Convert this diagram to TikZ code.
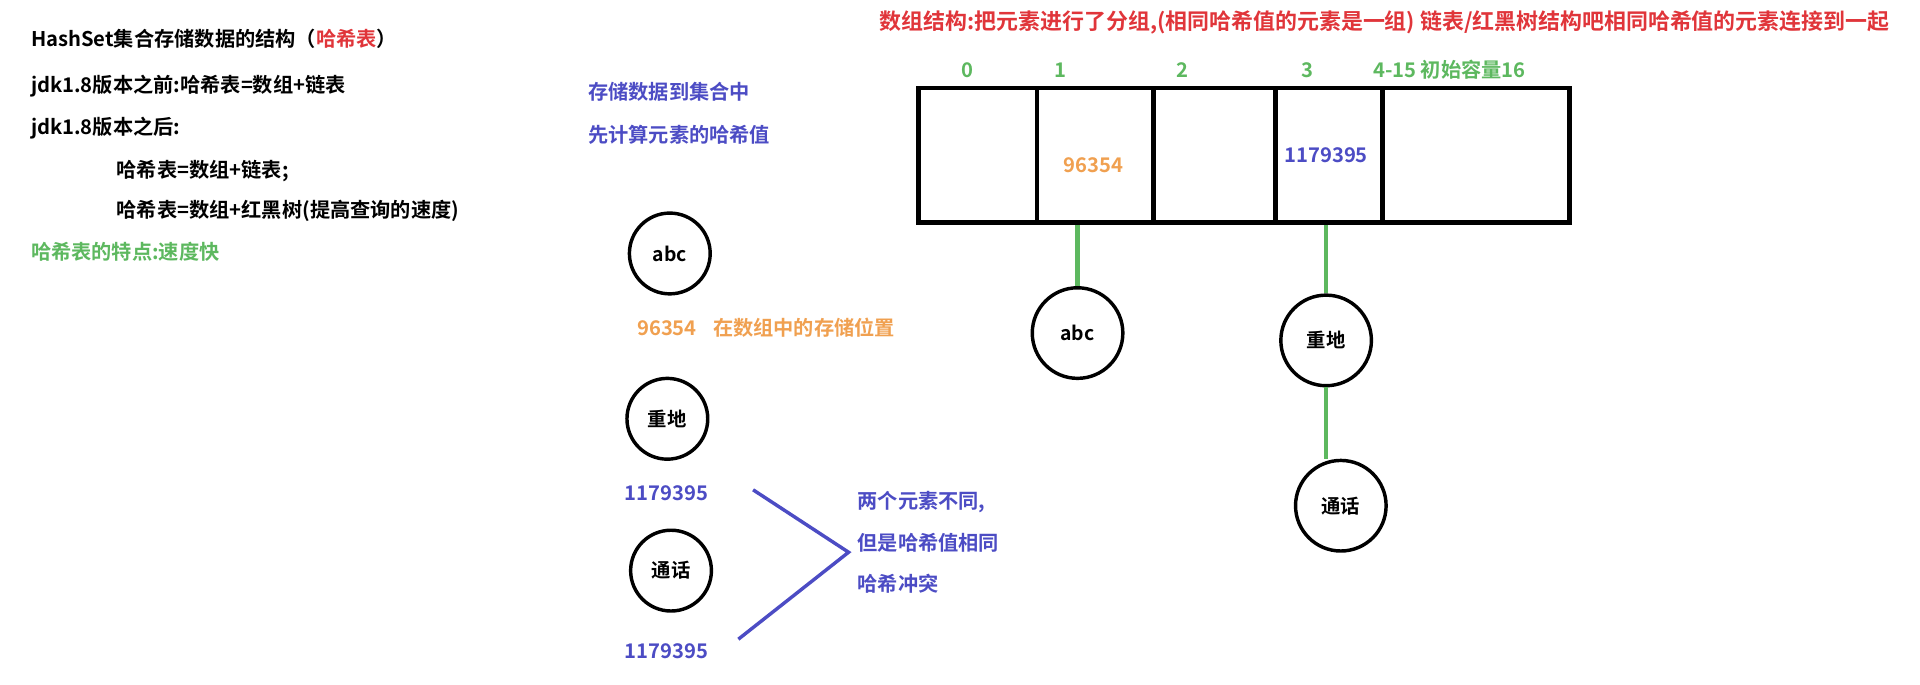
\documentclass[tikz,border=0pt]{standalone}
\usepackage{fontspec}
\setmainfont{Noto Sans CJK SC}[BoldFont={Noto Sans CJK SC Bold}]
\usetikzlibrary{positioning}
\definecolor{hashred}{HTML}{E0353A}
\definecolor{hashgreen}{HTML}{5DB85F}
\definecolor{hashblue}{HTML}{4C4CC4}
\definecolor{hashorange}{HTML}{F0A050}

\begin{document}
\begin{tikzpicture}[x=0.02cm,y=-0.02cm,
  txt/.style={anchor=west, inner sep=0pt, font=\bfseries\fontsize{9.4}{10}\selectfont},
  elem/.style={circle, draw, line width=1.6pt, minimum size=#1*0.04cm, font=\bfseries\fontsize{9}{10}\selectfont},
  cell/.style={draw, line width=2.2pt, minimum height=2.2cm, inner sep=0pt},
  link/.style={hashgreen, line width=2pt},
  clash/.style={hashblue, line width=1.6pt}]
\useasboundingbox (0,0) rectangle (1568,558.6);

% Left description
\node[txt] (title) at (25,32) {HashSet集合存储数据的结构（\textcolor{hashred}{哈希表}）};
\node[txt] (before) at (25,70) {jdk1.8版本之前:哈希表=数组+链表};
\node[txt] (after) at (25,105) {jdk1.8版本之后:};
\node[txt] (afterA) at (95,140) {哈希表=数组+链表;};
\node[txt] (afterB) at (95,172) {哈希表=数组+红黑树(提高查询的速度)};
\node[txt, hashgreen] (feature) at (25,206) {哈希表的特点:速度快};

% Storing elements
\node[txt, hashblue] (storeA) at (480,75) {存储数据到集合中};
\node[txt, hashblue] (storeB) at (480,110) {先计算元素的哈希值};
\node[elem=33] (abcL) at (547,207) {abc};
\node[txt, hashorange] (hashAbc) at (520,268) {96354\hspace{0.8em}在数组中的存储位置};
\node[elem=33] (zdL) at (545,342) {重地};
\node[txt, hashblue] (hashZd) at (510,403) {1179395};
\node[elem=33] (thL) at (548,466) {通话};
\node[txt, hashblue] (hashTh) at (510,532) {1179395};
\coordinate (clashA) at (615,400);
\coordinate (clashB) at (603,522);
\coordinate (clashTip) at (693,451);
\draw[clash] (clashA) -- (clashTip) -- (clashB);
\node[txt, hashblue] (diffA) at (700,410) {两个元素不同,};
\node[txt, hashblue] (diffB) at (700,443) {但是哈希值相同};
\node[txt, hashblue] (diffC) at (700,477) {哈希冲突};

% Array structure
\node[txt, hashred, font=\bfseries\fontsize{10.2}{11}\selectfont] (arrayNote) at (718,18) {数组结构:把元素进行了分组,(相同哈希值的元素是一组) 链表/红黑树结构吧相同哈希值的元素连接到一起};
\node[cell, minimum width=97*0.02cm, anchor=north west] (c0) at (748,70) {};
\node[cell, minimum width=95*0.02cm, anchor=north west] (c1) at (845,70) {};
\node[cell, minimum width=100*0.02cm, anchor=north west] (c2) at (940,70) {};
\node[cell, minimum width=87*0.02cm, anchor=north west] (c3) at (1040,70) {};
\node[cell, minimum width=153*0.02cm, anchor=north west] (c4) at (1127,70) {};
\node[txt, hashgreen, anchor=center] (i0) at (790,57) {0};
\node[txt, hashgreen, anchor=center] (i1) at (866,57) {1};
\node[txt, hashgreen, anchor=center] (i2) at (966,57) {2};
\node[txt, hashgreen, anchor=center] (i3) at (1068,57) {3};
\node[txt, hashgreen] (i4) at (1121,57) {4-15 初始容量16};
\node[txt, hashorange, anchor=center] (v1) at (893,135) {96354};
\node[txt, hashblue, anchor=center] (v3) at (1083,127) {1179395};

% Buckets
\node[elem=37] (abcR) at (880,272) {abc};
\node[elem=37] (zdR) at (1083,278) {重地};
\node[elem=37] (thR) at (1095,413) {通话};
\draw[link] (c1.south -| abcR) -- (abcR);
\draw[link] (c3.south -| zdR) -- (zdR);
\draw[link] (zdR) -- (zdR |- thR.north);
\end{tikzpicture}
\end{document}
